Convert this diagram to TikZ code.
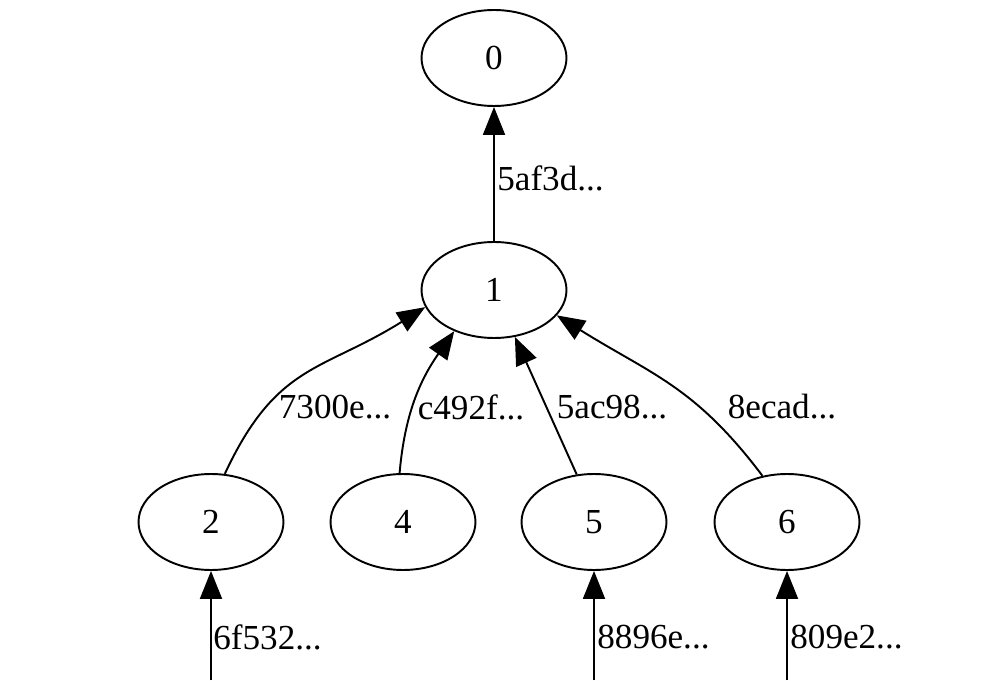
\documentclass[tikz,border=0pt]{standalone}
\usepackage{fontspec}
\setmainfont{Liberation Serif}
\usetikzlibrary{arrows.meta,shapes.geometric}
\tikzset{
    raw state/.style={ellipse, draw, line width=1.1pt, inner sep=0pt, minimum width=2.9cm, minimum height=1.92cm},
    state/.style={raw state, black, font=\fontsize{20}{24}\selectfont},
    hash/.style={inner sep=0pt, font=\fontsize{20}{24}\selectfont},
    link/.style={->, line width=1.1pt}
}

\begin{document}
\begin{tikzpicture}[x=0.02cm, y=0.02cm,
	>={Triangle[length=0.56cm, width=0.44cm]}]
	\useasboundingbox (0,0) rectangle (1000,680);
		\begin{scope}[every node/.style={state}]
			\node (n0) at (494,622) {0};
			\node (n1) at (494,390) {1};
			\node (n2) at (211,158) {2};
			\node (n4) at (403,158) {4};
			\node (n5) at (594,158) {5};
			\node (n6) at (787,158) {6};
		\end{scope}
		\coordinate (b2) at (211,0);
		\coordinate (b5) at (594,0);
		\coordinate (b6) at (787,0);
		\begin{scope}[every node/.style={hash}]
			\node[anchor=west] (h10) at (497,502) {5af3d...};
			\node (h21) at (335,273) {7300e...};
			\node (h41) at (471,273) {c492f...};
			\node (h51) at (612,273) {5ac98...};
			\node (h61) at (782,273) {8ecad...};
			\node[anchor=west] (h2) at (213,43) {6f532...};
			\node[anchor=west] (h5) at (597,43) {8896e...};
			\node[anchor=west] (h6) at (790,43) {809e2...};
		\end{scope}
		\draw[link] (n1) -- (n0);
		\draw[link] (n2.74) to[out=65, in=212, looseness=1.2] (n1.194);
		\draw[link] (n4.94) to[out=85, in=235] (n1.226);
		\draw[link] (n5.110) -- (n1.294);
		\draw[link] (n6.118) to[out=127, in=328, looseness=1.1] (n1.338);
		\draw[link] (b2) -- (n2);
		\draw[link] (b5) -- (n5);
		\draw[link] (b6) -- (n6);
	\end{tikzpicture}
\end{document}
